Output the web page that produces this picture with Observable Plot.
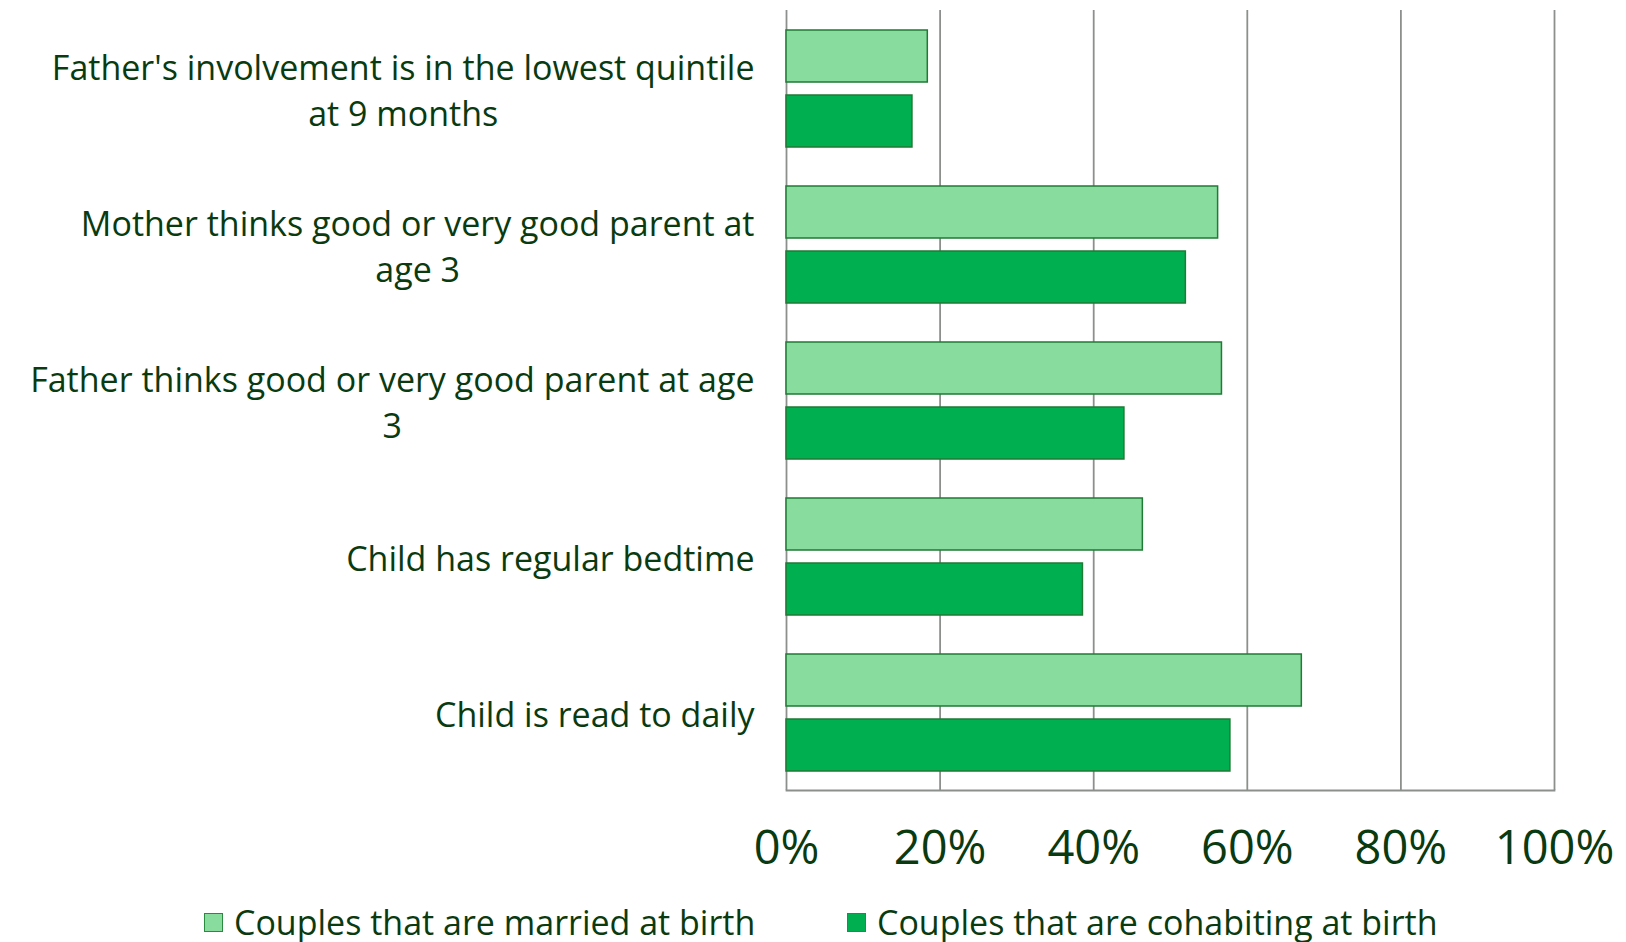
<!DOCTYPE html>
<html>
<head>
<meta charset="utf-8">
<script src="https://cdn.jsdelivr.net/npm/d3@7"></script>
<script src="https://cdn.jsdelivr.net/npm/@observablehq/plot@0.6"></script>
<style>
  html, body { margin: 0; padding: 0; background: #ffffff; }
  #wrap { position: relative; width: 1626px; height: 942px; font-family: "Open Sans", sans-serif; }
  #legend { position: absolute; top: 903px; left: 0; width: 1626px; height: 38px; }
  .item { position: absolute; top: 0; height: 38px; display: flex; align-items: center; gap: 11px;
          font-size: 34px; color: #0a3a0f; white-space: nowrap; }
  .sw { width: 17px; height: 17px; border: 1.5px solid #2a8a40; }
</style>
</head>
<body>
<div id="wrap">
  <div id="chart"></div>
  <div id="legend"></div>
</div>
<script>
// ---- data ----
const categories = [
  "Father's involvement is in the lowest quintile at 9 months",
  "Mother thinks good or very good parent at age 3",
  "Father thinks good or very good parent at age 3",
  "Child has regular bedtime",
  "Child is read to daily"
];
const tickLabels = [
  ["Father's involvement is in the lowest quintile", "at 9 months"],
  ["Mother thinks good or very good parent at", "age 3"],
  ["Father thinks good or very good parent at age", "3"],
  ["Child has regular bedtime"],
  ["Child is read to daily"]
];
const series = ["Couples that are married at birth", "Couples that are cohabiting at birth"];
const married    = [18.4, 56.2, 56.7, 46.4, 67.1];
const cohabiting = [16.4, 52.0, 44.0, 38.6, 57.8];
const xTicks = [0, 20, 40, 60, 80, 100];
const seriesColors = ["#88dc9e", "#00b050"];

// ---- styles ----
const textColor = "#0a3a0f";
const gridColor = "#8c908c";
const barStroke = "#217a36";
const labelFont = 34;
const labelLine = 46;

const data = [];
categories.forEach((c, i) => {
  data.push({category: c, series: series[0], value: married[i]});
  data.push({category: c, series: series[1], value: cohabiting[i]});
});

// measure label widths for right-aligned block with centered lines
const ctx = document.createElement("canvas").getContext("2d");
ctx.font = `${labelFont}px "Open Sans"`;
const labelMarks = categories.map((c, i) => {
  const lines = tickLabels[i];
  const w = Math.max(...lines.map(l => ctx.measureText(l).width));
  return Plot.text([c], {
    fy: d => d,
    text: () => lines.join("\n"),
    frameAnchor: "left",
    textAnchor: "middle",
    dx: -(32 + w / 2),
    fontSize: labelFont,
    lineHeight: labelLine / labelFont,
    fill: textColor
  });
});

const chart = Plot.plot({
  width: 1626,
  height: 890,
  marginLeft: 786,
  marginRight: 72,
  marginTop: 8,
  marginBottom: 98,
  style: {fontFamily: "Open Sans, sans-serif", background: "#ffffff", overflow: "visible"},
  x: {domain: [0, 100]},
  fy: {domain: categories, padding: 0, axis: null, label: null},
  y: {domain: series, paddingInner: 0.2, paddingOuter: 0.295, axis: null, label: null},
  marks: [
    Plot.gridX(xTicks, {stroke: gridColor, strokeOpacity: 1, strokeWidth: 1.8}),
    Plot.barX(data, {
      x: "value", y: "series", fy: "category",
      fill: d => seriesColors[series.indexOf(d.series)],
      stroke: barStroke, strokeWidth: 1.5
    }),
    Plot.frame({anchor: "bottom", facetAnchor: "bottom", stroke: gridColor, strokeWidth: 1.8}),
    Plot.axisX({
      ticks: xTicks, tickSize: 0, tickPadding: 40,
      tickFormat: d => d + "%", fontSize: 47, color: textColor, label: null
    }),
    ...labelMarks
  ]
});
document.getElementById("chart").appendChild(chart);

// legend
const legend = document.getElementById("legend");
const lefts = [204, 847];
series.forEach((s, i) => {
  const it = document.createElement("div");
  it.className = "item";
  it.style.left = lefts[i] + "px";
  const sw = document.createElement("div");
  sw.className = "sw";
  sw.style.background = seriesColors[i];
  const t = document.createElement("span");
  t.textContent = s;
  it.appendChild(sw); it.appendChild(t);
  legend.appendChild(it);
});
</script>
</body>
</html>
